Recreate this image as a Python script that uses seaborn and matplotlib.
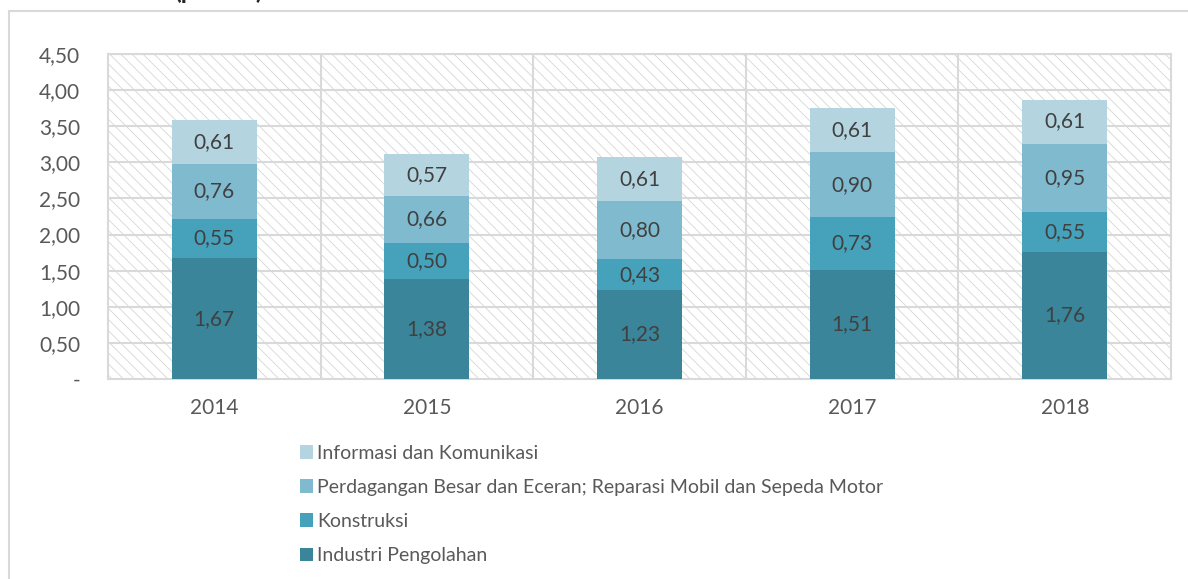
import matplotlib
matplotlib.use("Agg")
import matplotlib.pyplot as plt
from matplotlib.patches import Rectangle, Patch
import numpy as np
import pandas as pd
import seaborn as sns

# Data: contribution by sector (percent points)
years = ["2014", "2015", "2016", "2017", "2018"]
industri = [1.67, 1.38, 1.23, 1.51, 1.76]
konstruksi = [0.55, 0.50, 0.43, 0.73, 0.55]
perdagangan = [0.76, 0.66, 0.80, 0.90, 0.95]
informasi = [0.61, 0.57, 0.61, 0.61, 0.61]

series_names = [
    "Industri Pengolahan",
    "Konstruksi",
    "Perdagangan Besar dan Eceran; Reparasi Mobil dan Sepeda Motor",
    "Informasi dan Komunikasi",
]
series_values = [industri, konstruksi, perdagangan, informasi]
colors = ["#3A8599", "#46A2BB", "#7FBACF", "#B4D5E0"]
y_ticks = [0, 0.5, 1.0, 1.5, 2.0, 2.5, 3.0, 3.5, 4.0, 4.5]
y_tick_labels = ["-", "0,50", "1,00", "1,50", "2,00", "2,50", "3,00", "3,50", "4,00", "4,50"]

sns.set_theme(style="white")
plt.rcParams["font.family"] = ["Lato", "DejaVu Sans"]
plt.rcParams["hatch.linewidth"] = 0.6

W, H = 1188, 579
fig = plt.figure(figsize=(W / 100, H / 100), dpi=100)
fig.patch.set_facecolor("white")

# outer chart frame
fig.patches.append(Rectangle((9 / W, -0.1), 2.0, 1 - 11 / H + 0.1,
                             transform=fig.transFigure, fill=False,
                             edgecolor="#D9D9D9", linewidth=1.5, zorder=0))
# chart title, mostly above the visible area
fig.text(174 / W, 1 + 1 / H, "(persen)", fontsize=18, fontweight="bold",
         color="#262626", ha="left", va="baseline")

ax = fig.add_axes([108 / W, 1 - 379 / H, (1171 - 108) / W, (379 - 54) / H])

# hatched plot-area background
ax.add_patch(Rectangle((0, 0), 1, 1, transform=ax.transAxes, facecolor="white",
                       edgecolor="#D6D6D6", hatch="\\\\\\", linewidth=0, zorder=0))

df = pd.DataFrame({"year": years})
bottom = np.zeros(len(years))
for name, vals, col in zip(series_names, series_values, colors):
    df["v"] = vals
    sns.barplot(data=df, x="year", y="v", color=col, bottom=bottom, width=0.4,
                ax=ax, saturation=1, zorder=3, linewidth=0, order=years)
    for i, v in enumerate(vals):
        ax.text(i, bottom[i] + v / 2, f"{v:.2f}".replace(".", ","), ha="center",
                va="center", fontsize=15, color="#404040", zorder=4)
    bottom = bottom + np.array(vals)

ax.set_xlim(-0.5, len(years) - 0.5)
ax.set_ylim(0, 4.5)
ax.set_yticks(y_ticks)
ax.set_yticklabels(y_tick_labels)
ax.set_xlabel("")
ax.set_ylabel("")

# grid lines: horizontal at each tick, vertical at category boundaries
for y in y_ticks[1:]:
    ax.axhline(y, color="#D9D9D9", linewidth=1.5, zorder=1)
for xb in np.arange(0.5, len(years) - 0.5, 1):
    ax.axvline(xb, color="#D9D9D9", linewidth=1.5, zorder=1)
for s in ax.spines.values():
    s.set_visible(True)
    s.set_color("#D9D9D9")
    s.set_linewidth(1.5)

ax.tick_params(axis="both", length=0, labelsize=15, labelcolor="#595959")
ax.tick_params(axis="y", pad=20)
ax.tick_params(axis="x", pad=14)

handles = [Patch(facecolor=c, edgecolor="none") for c in colors][::-1]
labels = series_names[::-1]
fig.legend(handles, labels, loc="upper left", bbox_to_anchor=(292 / W, 1 - 437 / H),
           frameon=False, fontsize=14, labelcolor="#595959", handlelength=0.7,
           handleheight=0.7, handletextpad=0.2, labelspacing=0.88, borderaxespad=0)

fig.savefig("out.png", dpi=100, facecolor="white")
